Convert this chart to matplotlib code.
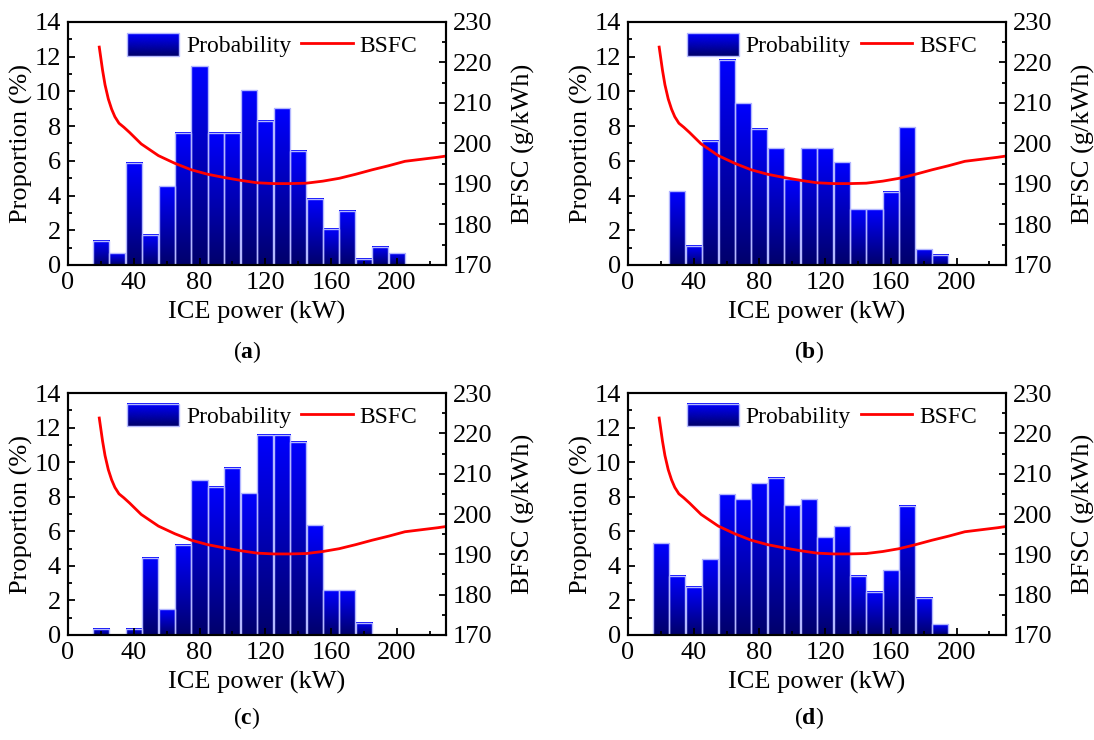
import numpy as np
import matplotlib
matplotlib.use('Agg')
import matplotlib.pyplot as plt
from matplotlib.colors import LinearSegmentedColormap
from matplotlib.legend_handler import HandlerBase
from matplotlib.image import BboxImage
from matplotlib.transforms import Bbox, TransformedBbox
from matplotlib.patches import Rectangle
from matplotlib.lines import Line2D
from matplotlib.ticker import MultipleLocator

plt.rcParams['font.family'] = ['Liberation Serif', 'DejaVu Serif']
plt.rcParams['mathtext.fontset'] = 'custom'
plt.rcParams['mathtext.rm'] = 'Liberation Serif'
plt.rcParams['mathtext.bf'] = 'Liberation Serif:bold'

# power bins (kW)
power = [20, 30, 40, 50, 60, 70, 80, 90, 100, 110, 120, 130, 140, 150, 160, 170, 180, 190, 200]

# proportion (%) for each case
prop_a = [1.41, 0.69, 5.9, 1.73, 4.53, 7.63, 11.46, 7.63, 7.63, 10.06, 8.32, 9.02, 6.59, 3.82, 2.08, 3.12, 0.37, 1.04, 0.69]
prop_b = [0, 4.26, 1.10, 7.17, 11.81, 9.33, 7.84, 6.72, 4.95, 6.72, 6.72, 5.93, 3.22, 3.22, 4.22, 7.94, 0.92, 0.60, 0]
prop_c = [0.37, 0, 0.37, 4.47, 1.50, 5.22, 8.96, 8.57, 9.69, 8.19, 11.58, 11.58, 11.19, 6.34, 2.60, 2.60, 0.71, 0, 0]
prop_d = [5.30, 3.43, 2.79, 4.37, 8.13, 7.84, 8.77, 9.09, 7.51, 7.84, 5.65, 6.28, 3.43, 2.49, 3.76, 7.49, 2.16, 0.62, 0]

# BSFC curve (same in all panels)
bsfc_x = [19, 21, 22.5, 24.5, 26.5, 28.5, 31, 34, 37.5, 44.5, 55, 65, 75, 85, 95, 105, 115, 125,
          135, 145, 155, 165, 175, 185, 195, 205, 215, 225, 230]
bsfc_y = [223.8, 218.1, 214.5, 211.0, 208.5, 206.6, 205.0, 204.0, 202.7, 199.9, 197.0, 195.1, 193.5,
          192.4, 191.6, 190.9, 190.3, 190.1, 190.1, 190.2, 190.7, 191.4, 192.4, 193.5, 194.5, 195.6,
          196.1, 196.6, 196.9]

panels = [prop_a, prop_b, prop_c, prop_d]
letters = ['a', 'b', 'c', 'd']

cmap = LinearSegmentedColormap.from_list('bluegrad', [(0, 0, 0.42), (0, 0, 1.0)])
grad = np.linspace(0, 1, 256).reshape(-1, 1)
edge_col = '#b4b8ff'


class GradHandler(HandlerBase):
    def create_artists(self, legend, orig_handle, xdescent, ydescent, width, height, fontsize, trans):
        bb = Bbox.from_bounds(-xdescent, -ydescent, width, height)
        img = BboxImage(TransformedBbox(bb, trans), cmap=cmap, interpolation='bicubic', origin='lower')
        img.set_data(grad)
        rect = Rectangle((-xdescent, -ydescent), width, height, fill=False,
                         edgecolor=edge_col, lw=1, transform=trans)
        return [img, rect]


fig = plt.figure(figsize=(10.94, 7.40), dpi=100)
positions = [[0.0622, 0.6419, 0.3455, 0.3284],
             [0.574, 0.6419, 0.3455, 0.3284],
             [0.0622, 0.1419, 0.3455, 0.327],
             [0.574, 0.1419, 0.3455, 0.327]]
label_pos = [(0.2258, 0.524), (0.7395, 0.524), (0.2258, 0.03), (0.7395, 0.03)]

for vals, pos, let, lp in zip(panels, positions, letters, label_pos):
    ax = fig.add_axes(pos)
    bars = ax.bar(power, vals, width=9.8, facecolor='none', edgecolor=edge_col, lw=1, zorder=1.2)
    for b in bars:
        h = b.get_height()
        if h <= 0:
            continue
        ax.imshow(grad, extent=[b.get_x(), b.get_x() + b.get_width(), 0, h], origin='lower',
                  cmap=cmap, aspect='auto', interpolation='bicubic', zorder=1.1)
    ax.set_xlim(0, 230)
    ax.set_ylim(0, 14)
    ax.xaxis.set_major_locator(MultipleLocator(40))
    ax.xaxis.set_minor_locator(MultipleLocator(20))
    ax.yaxis.set_major_locator(MultipleLocator(2))
    ax.yaxis.set_minor_locator(MultipleLocator(1))
    ax.set_xlabel('ICE power (kW)', fontsize=19, labelpad=5)
    ax.set_ylabel('Proportion (%)', fontsize=19, labelpad=1)
    ax.tick_params(which='both', direction='in', labelsize=19, top=False, width=1.3)
    ax.tick_params(which='major', length=5, pad=5)
    ax.tick_params(which='minor', length=3)
    for s in ax.spines.values():
        s.set_linewidth(1.5)

    ax2 = ax.twinx()
    ax2.plot(bsfc_x, bsfc_y, color='#ff0000', lw=2)
    ax2.set_ylim(170, 230)
    ax2.yaxis.set_major_locator(MultipleLocator(10))
    ax2.yaxis.set_minor_locator(MultipleLocator(5))
    ax2.set_ylabel('BFSC (g/kWh)', fontsize=19, labelpad=14)
    ax2.tick_params(which='both', direction='in', labelsize=19, width=1.3)
    ax2.tick_params(which='major', length=5, pad=5)
    ax2.tick_params(which='minor', length=3)
    for s in ax2.spines.values():
        s.set_linewidth(1.5)

    handles = [Rectangle((0, 0), 1, 1), Line2D([], [], color='#ff0000', lw=2)]
    ax2.legend(handles, ['Probability', 'BSFC'], handler_map={Rectangle: GradHandler()},
               loc='center', bbox_to_anchor=(0.54, 0.905), ncol=2, frameon=False,
               fontsize=17, handlelength=2.2, handleheight=1.1, handletextpad=0.3,
               columnspacing=0.4, borderpad=0, borderaxespad=0)

    fig.text(lp[0], lp[1], r'($\mathbf{' + let + '}$)', fontsize=17, ha='center', va='center')

fig.savefig('out.png', dpi=100)
